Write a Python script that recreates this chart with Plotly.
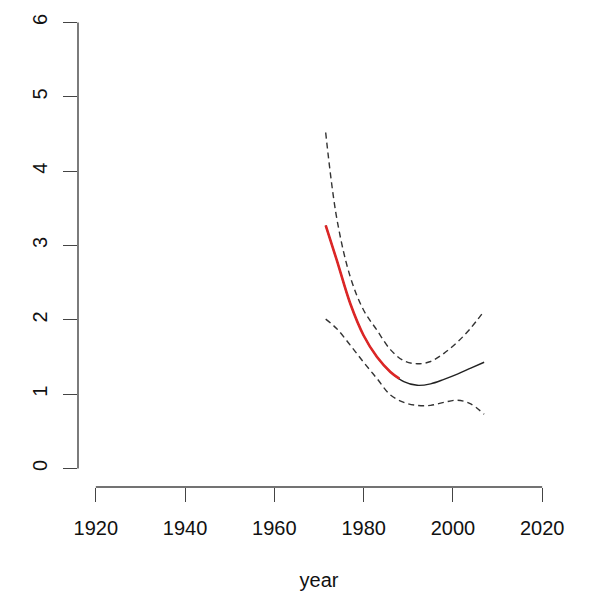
import plotly.graph_objects as go

# data
years = [1971.5, 1974, 1977, 1980, 1983, 1986, 1989, 1992, 1995, 1998, 2001, 2004, 2007]
fit = [3.27, 2.80, 2.22, 1.79, 1.50, 1.30, 1.17, 1.12, 1.14, 1.20, 1.27, 1.35, 1.43]
upper = [4.52, 3.36, 2.58, 2.13, 1.86, 1.60, 1.45, 1.41, 1.44, 1.55, 1.70, 1.89, 2.12]
lower = [2.01, 1.88, 1.66, 1.43, 1.21, 0.99, 0.89, 0.85, 0.85, 0.89, 0.92, 0.87, 0.73]
red_years = [1971.5, 1974, 1977, 1980, 1983, 1986, 1988]
red_fit = [3.27, 2.80, 2.22, 1.79, 1.50, 1.30, 1.21]

x_ticks = [1920, 1940, 1960, 1980, 2000, 2020]
y_ticks = [0, 1, 2, 3, 4, 5, 6]

AX = "#444444"
FONT = "Liberation Sans, Arial, sans-serif"

fig = go.Figure()
dash = "6px,4px"
fig.add_trace(go.Scatter(x=years, y=upper, mode="lines", line=dict(color="#333333", width=1.4, dash=dash, shape="spline")))
fig.add_trace(go.Scatter(x=years, y=lower, mode="lines", line=dict(color="#333333", width=1.4, dash=dash, shape="spline")))
fig.add_trace(go.Scatter(x=years, y=fit, mode="lines", line=dict(color="#222222", width=1.4, shape="spline")))
fig.add_trace(go.Scatter(x=red_years, y=red_fit, mode="lines", line=dict(color="#DC2626", width=2.6, shape="spline")))

# R-style axis lines spanning only first..last tick
fig.add_shape(type="line", xref="paper", yref="y", x0=0, x1=0, y0=y_ticks[0], y1=y_ticks[-1],
              line=dict(color=AX, width=1.4))
fig.add_shape(type="line", xref="x", yref="paper", x0=x_ticks[0], x1=x_ticks[-1], y0=0, y1=0,
              line=dict(color=AX, width=1.4))

# page body has an 8px margin, so the figure is sized to fit the remaining window
fig.update_layout(
    width=587, height=585,
    margin=dict(l=70, r=35, t=0, b=106),
    plot_bgcolor="white", paper_bgcolor="white",
    showlegend=False,
    font=dict(family=FONT, color="#111111", size=20),
)
fig.update_xaxes(
    range=[1916, 2024], tickvals=x_ticks, ticktext=[str(v) for v in x_ticks],
    showgrid=False, zeroline=False, showline=False, automargin=False,
    ticks="outside", ticklen=14, tickwidth=1.4, tickcolor=AX,
    ticklabelstandoff=9,
    title=dict(text="year", standoff=34, font=dict(size=20)),
)
fig.update_yaxes(
    range=[-0.248, 6.195], tickvals=y_ticks, ticktext=[str(v) for v in y_ticks],
    showgrid=False, zeroline=False, showline=False, automargin=False,
    ticks="outside", ticklen=14, tickwidth=1.4, tickcolor=AX,
    tickangle=-90, ticklabelstandoff=8,
)

fig.write_html("out.html")
